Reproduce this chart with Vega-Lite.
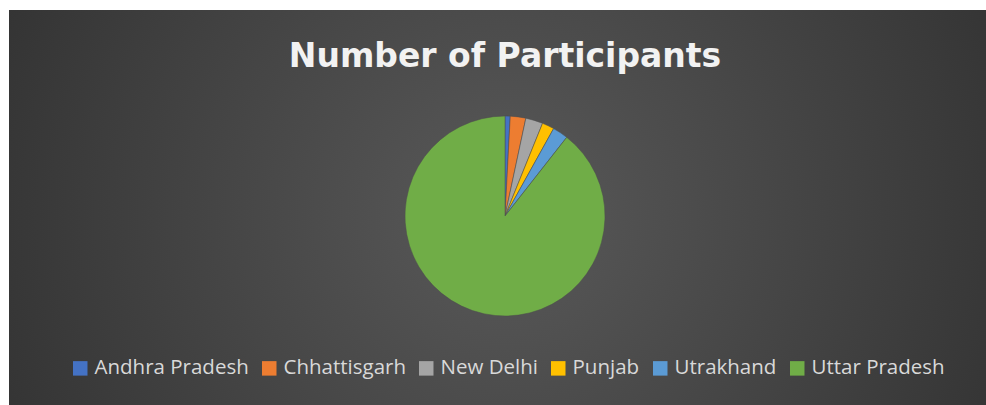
{
  "$schema": "https://vega.github.io/schema/vega-lite/v6.json",
  "width": 992,
  "height": 412,
  "autosize": "none",
  "padding": {"left": 9, "top": 10, "right": -15, "bottom": -17},
  "background": "white",
  "view": {
    "stroke": null,
    "fill": {
      "gradient": "radial",
      "x1": 0.5, "y1": 0.5, "r1": 0,
      "x2": 0.5, "y2": 0.5, "r2": 0.75,
      "stops": [
        {"offset": 0, "color": "#595959"},
        {"offset": 1, "color": "#262626"}
      ]
    }
  },
  "title": {
    "text": "Number of Participants",
    "font": "DejaVu Sans",
    "fontWeight": "bold",
    "fontSize": 33,
    "color": "#f2f2f2",
    "anchor": "middle",
    "frame": "group",
    "baseline": "alphabetic",
    "offset": -90
  },
  "data": {
    "values": [
      {"state": "Andhra Pradesh", "participants": 3, "rank": 1},
      {"state": "Chhattisgarh", "participants": 9, "rank": 2},
      {"state": "New Delhi", "participants": 10, "rank": 3},
      {"state": "Punjab", "participants": 7, "rank": 4},
      {"state": "Utrakhand", "participants": 9, "rank": 5},
      {"state": "Uttar Pradesh", "participants": 321, "rank": 6}
    ]
  },
  "mark": {"type": "arc", "radius": 100, "stroke": "#4d4d4d", "strokeWidth": 0.5},
  "encoding": {
    "theta": {"field": "participants", "type": "quantitative", "stack": true},
    "order": {"field": "rank", "type": "quantitative"},
    "color": {
      "field": "state",
      "type": "nominal",
      "scale": {
        "domain": ["Andhra Pradesh", "Chhattisgarh", "New Delhi", "Punjab", "Utrakhand", "Uttar Pradesh"],
        "range": ["#4472C4", "#ED7D31", "#A5A5A5", "#FFC000", "#5B9BD5", "#70AD47"]
      },
      "legend": {
        "title": null,
        "orient": "none",
        "direction": "horizontal",
        "legendX": 61,
        "legendY": 348,
        "columns": 6,
        "symbolType": "square",
        "symbolSize": 210,
        "symbolStrokeWidth": 0,
        "labelFont": "Open Sans",
        "labelFontSize": 20.5,
        "labelColor": "#d9d9d9",
        "labelOffset": 4,
        "columnPadding": 10,
        "labelLimit": 300
      }
    }
  }
}
